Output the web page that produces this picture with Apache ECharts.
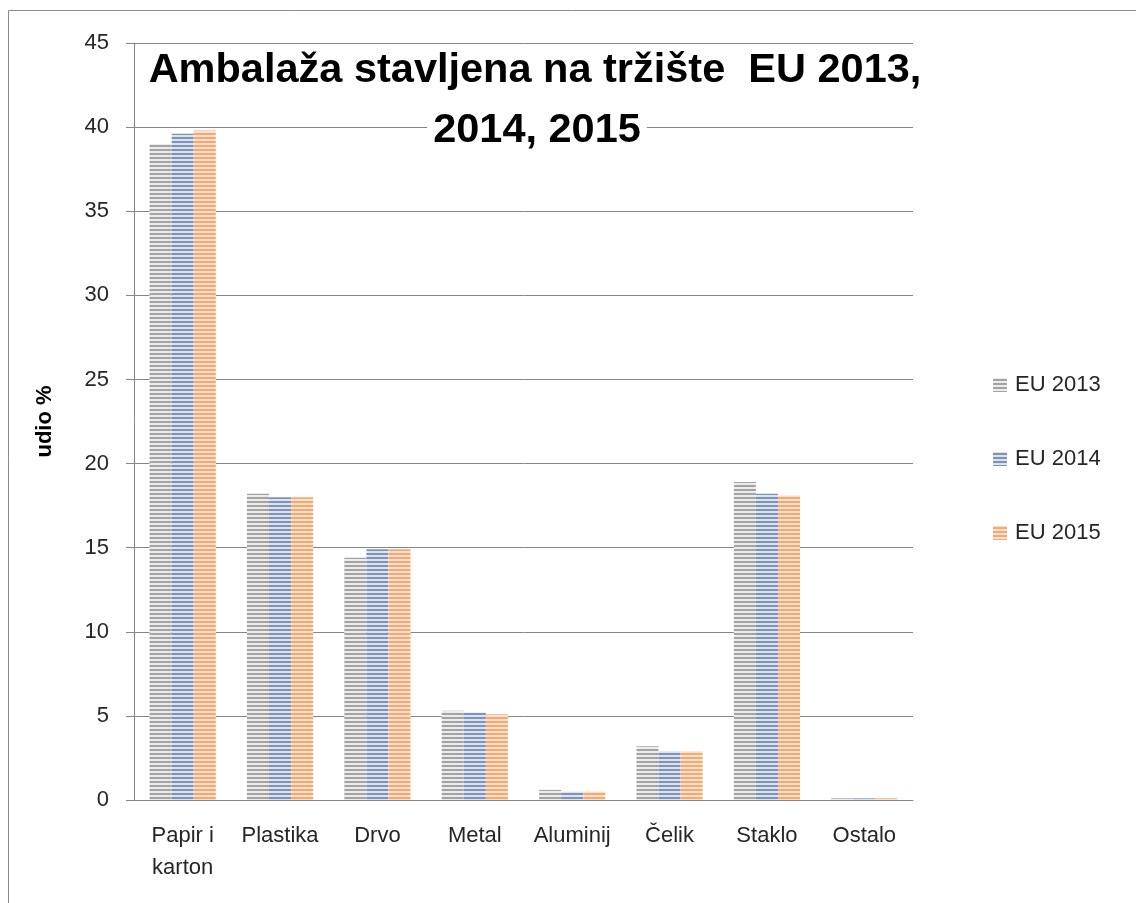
<!DOCTYPE html>
<html>
<head>
<meta charset="utf-8">
<script src="https://cdn.jsdelivr.net/npm/echarts@6/dist/echarts.min.js"></script>
<style>
  html, body { margin: 0; padding: 0; background: #fff; }
  #chart { width: 1136px; height: 903px; }
</style>
</head>
<body>
<div id="chart"></div>
<script>
// categories and values (udio %)
const categories = ['Papir i\nkarton', 'Plastika', 'Drvo', 'Metal', 'Aluminij', 'Čelik', 'Staklo', 'Ostalo'];
const eu2013 = [39.0, 18.2, 14.4, 5.3, 0.6, 3.2, 18.9, 0.1];
const eu2014 = [39.6, 18.0, 14.9, 5.2, 0.5, 2.9, 18.2, 0.1];
const eu2015 = [39.8, 18.0, 14.9, 5.1, 0.5, 2.9, 18.1, 0.1];
const seriesNames = ['EU 2013', 'EU 2014', 'EU 2015'];

const FONT = '"Liberation Sans", Arial, sans-serif';
const TXT = '#262626';

// horizontal stripe fill, like the excel pattern
function stripes(dark, light) {
    const c = document.createElement('canvas');
    c.width = 4;
    c.height = 4;
    const ctx = c.getContext('2d');
    ctx.fillStyle = light;
    ctx.fillRect(0, 0, 4, 4);
    ctx.fillStyle = dark;
    ctx.fillRect(0, 1, 4, 2);
    return { image: c, repeat: 'repeat' };
}

const fills = [
    stripes('#a3a3a3', '#ececec'),
    stripes('#7f93b6', '#dde3ee'),
    stripes('#f7a76f', '#fde3cf')
];

const chart = echarts.init(document.getElementById('chart'));

const makeBar = (name, data, i) => ({
    name: name,
    type: 'bar',
    data: data,
    barGap: 0,
    barCategoryGap: '32%',
    itemStyle: { color: fills[i] }
});

chart.setOption({
    animation: false,
    graphic: [{
        type: 'rect',
        z: -10,
        shape: { x: 8.5, y: 10.5, width: 1300, height: 1000 },
        style: { fill: 'none', stroke: '#8a8a8a', lineWidth: 1 }
    }],
    title: [
        {
            text: 'Ambalaža stavljena na tržište  EU 2013,',
            left: 535,
            top: 50,
            textAlign: 'center',
            padding: 0,
            textStyle: { fontFamily: FONT, fontSize: 41.5, fontWeight: 'bold', color: '#000' }
        },
        {
            text: '2014, 2015',
            left: 531,
            top: 106,
            textAlign: 'center',
            padding: [4, 6],
            backgroundColor: '#fff',
            textStyle: { fontFamily: FONT, fontSize: 41.5, fontWeight: 'bold', color: '#000' }
        }
    ],
    legend: {
        orient: 'vertical',
        left: 993,
        top: 372,
        padding: 0,
        itemWidth: 14,
        itemHeight: 14,
        itemGap: 48,
        icon: 'rect',
        data: seriesNames,
        textStyle: { fontFamily: FONT, fontSize: 22, color: TXT, lineHeight: 26, padding: [0, 0, 0, 3] }
    },
    grid: {
        left: 134,
        right: 223,
        top: 43,
        bottom: 103
    },
    xAxis: {
        type: 'category',
        data: categories,
        axisLine: { lineStyle: { color: '#868686' } },
        axisTick: { length: 8, lineStyle: { color: '#868686' } },
        axisLabel: { fontFamily: FONT, fontSize: 22, color: TXT, lineHeight: 32, margin: 20, interval: 0 }
    },
    yAxis: {
        type: 'value',
        min: 0,
        max: 45,
        interval: 5,
        name: 'udio %',
        nameLocation: 'middle',
        nameGap: 78,
        nameRotate: 90,
        nameTextStyle: { fontFamily: FONT, fontSize: 22, fontWeight: 'bold', color: '#000' },
        axisLine: { show: true, lineStyle: { color: '#868686' } },
        axisTick: { show: true, length: 8, lineStyle: { color: '#868686' } },
        axisLabel: { fontFamily: FONT, fontSize: 22, color: TXT, margin: 25 },
        splitLine: { lineStyle: { color: '#868686', width: 1 } }
    },
    series: [
        makeBar(seriesNames[0], eu2013, 0),
        makeBar(seriesNames[1], eu2014, 1),
        makeBar(seriesNames[2], eu2015, 2)
    ]
});
</script>
</body>
</html>
